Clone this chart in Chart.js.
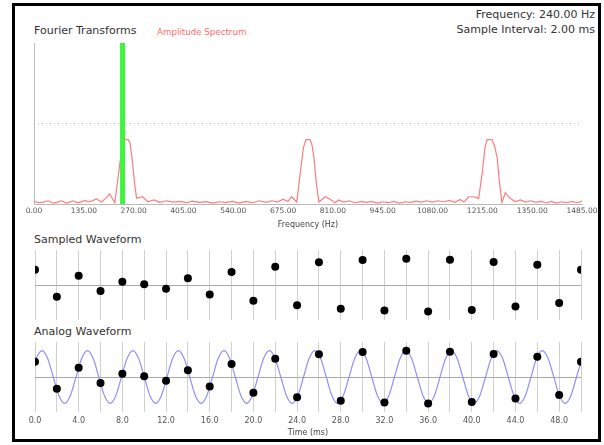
<!DOCTYPE html>
<html>
<head>
<meta charset="utf-8">
<script src="https://cdn.jsdelivr.net/npm/chart.js@4.4.0/dist/chart.umd.min.js"></script>
<style>
  body { margin:0; background:#fff; }
  #wrap { position:relative; width:604px; height:445px; overflow:hidden; font-family:"DejaVu Sans", sans-serif; }
  #frame { position:absolute; left:12px; top:3px; width:589px; height:439px; box-sizing:border-box; border:3px solid #000; }
  .lbl { position:absolute; white-space:nowrap; line-height:12px; font-size:11px; color:#333; }
  canvas { position:absolute; left:0; }
</style>
</head>
<body>
<div id="wrap">
  <div id="frame"></div>
  <div class="lbl" id="freqText" style="right:9px; top:9px;"></div>
  <div class="lbl" id="intervalText" style="right:9px; top:24px;"></div>
  <div class="lbl" style="left:34px; top:25px;">Fourier Transforms</div>
  <div class="lbl" style="left:157px; top:27px; font-size:8.7px; line-height:10px; color:#ff6b6b;">Amplitude Spectrum</div>
  <div class="lbl" style="left:34px; top:234px;">Sampled Waveform</div>
  <div class="lbl" style="left:34px; top:326px;">Analog Waveform</div>
  <canvas id="specChart" width="604" height="200" style="top:36px;"></canvas>
  <canvas id="sampleChart" width="604" height="80" style="top:245px;"></canvas>
  <canvas id="analogChart" width="604" height="103" style="top:337px;"></canvas>
</div>
<script>
const signalFreq = 240;     // Hz
const sampleInterval = 2;   // ms
const refLevel = 0.5;
const yLim = 1.33;

// amplitude spectrum
const specFreq = [0, 11, 25, 38, 52, 63, 74, 88, 97, 106, 115, 124, 138, 147, 156, 169, 183, 194, 205, 219,
  231, 239, 245, 255, 260, 266, 272, 278, 294, 309, 325, 341, 359, 377, 395, 413,
  430, 448, 466, 484, 502, 520, 538, 556, 574, 592, 610, 628, 645, 660, 675, 688, 698, 712,
  722, 730, 737, 748, 753, 759, 765, 772, 789, 802, 816, 825, 840, 855,
  870, 885, 900, 915, 930, 945, 960, 975, 990, 1005, 1020, 1035, 1050, 1065, 1080, 1095, 1110, 1125, 1140, 1155,
  1165, 1178, 1191, 1205, 1215, 1222, 1228, 1241, 1248, 1255, 1261, 1268, 1277, 1290, 1304, 1318,
  1332, 1346, 1360, 1374, 1388, 1402, 1416, 1430, 1444, 1458, 1472, 1485];
const specAmp = [0.018, 0.008, 0.012, 0.02, 0.005, 0.012, 0.02, 0.006, 0.012, 0.02, 0.01, 0.01, 0.022, 0.014, 0.018, 0.032, 0.012, 0.035, 0.062, 0.008,
  0.22, 0.37, 0.40, 0.40, 0.38, 0.28, 0.14, 0.035, 0.045, 0.014, 0.025, 0.01, 0.02, 0.012, 0.016, 0.008,
  0.018, 0.01, 0.015, 0.006, 0.014, 0.01, 0.016, 0.006, 0.016, 0.008, 0.02, 0.01, 0.02, 0.012, 0.03, 0.015, 0.045, 0.012,
  0.20, 0.35, 0.40, 0.40, 0.37, 0.28, 0.13, 0.012, 0.045, 0.03, 0.008, 0.025, 0.012, 0.02,
  0.008, 0.016, 0.01, 0.016, 0.006, 0.014, 0.008, 0.016, 0.006, 0.014, 0.01, 0.018, 0.012, 0.02, 0.012, 0.02, 0.014, 0.022, 0.01, 0.028,
  0.012, 0.045, 0.045, 0.035, 0.20, 0.35, 0.40, 0.40, 0.36, 0.29, 0.14, 0.01, 0.07, 0.035, 0.015, 0.025,
  0.012, 0.02, 0.01, 0.016, 0.008, 0.016, 0.006, 0.014, 0.008, 0.016, 0.008, 0.018];

// samples, every 2 ms
const sampleTimes = [0, 2, 4, 6, 8, 10, 12, 14, 16, 18, 20, 22, 24, 26, 28, 30, 32, 34, 36, 38, 40, 42, 44, 46, 48, 50];
const sampleValues = [0.58, -0.45, 0.35, -0.23, 0.12, 0.03, -0.14, 0.26, -0.36, 0.49, -0.60, 0.69, -0.77,
  0.86, -0.90, 0.95, -0.97, 1.0, -1.01, 0.96, -0.95, 0.87, -0.82, 0.77, -0.68, 0.58];

// analog wave: key points (eighth periods)
const analogTimes = [0,
  0.11, 0.63, 1.15, 1.67, 2.19, 2.71, 3.23, 3.76,
  4.28, 4.80, 5.32, 5.84, 6.36, 6.88, 7.40, 7.92,
  8.44, 8.96, 9.48, 10.01, 10.53, 11.05, 11.57, 12.09,
  12.61, 13.13, 13.65, 14.17, 14.69, 15.21, 15.73, 16.26,
  16.78, 17.30, 17.82, 18.34, 18.86, 19.38, 19.90, 20.42,
  20.94, 21.46, 21.98, 22.51, 23.03, 23.55, 24.07, 24.59,
  25.11, 25.63, 26.15, 26.67, 27.19, 27.71, 28.23, 28.76,
  29.28, 29.80, 30.32, 30.84, 31.36, 31.88, 32.40, 32.92,
  33.44, 33.96, 34.48, 35.01, 35.53, 36.05, 36.57, 37.09,
  37.61, 38.13, 38.65, 39.17, 39.69, 40.21, 40.73, 41.26,
  41.78, 42.30, 42.82, 43.34, 43.86, 44.38, 44.90, 45.42,
  45.94, 46.46, 46.98, 47.51, 48.03, 48.55, 49.07, 49.59,
  50];
const analogValues = [0.58,
  0.71, 1, 0.71, 0, -0.71, -1, -0.71, 0,
  0.71, 1, 0.71, 0, -0.71, -1, -0.71, 0,
  0.71, 1, 0.71, 0, -0.71, -1, -0.71, 0,
  0.71, 1, 0.71, 0, -0.71, -1, -0.71, 0,
  0.71, 1, 0.71, 0, -0.71, -1, -0.71, 0,
  0.71, 1, 0.71, 0, -0.71, -1, -0.71, 0,
  0.71, 1, 0.71, 0, -0.71, -1, -0.71, 0,
  0.71, 1, 0.71, 0, -0.71, -1, -0.71, 0,
  0.71, 1, 0.71, 0, -0.71, -1, -0.71, 0,
  0.71, 1, 0.71, 0, -0.71, -1, -0.71, 0,
  0.71, 1, 0.71, 0, -0.71, -1, -0.71, 0,
  0.71, 1, 0.71, 0, -0.71, -1, -0.71, 0,
  0.58];

document.getElementById("freqText").textContent = "Frequency: " + signalFreq.toFixed(2) + " Hz";
document.getElementById("intervalText").textContent = "Sample Interval: " + sampleInterval.toFixed(2) + " ms";

Chart.defaults.font.family = "'DejaVu Sans', sans-serif";
Chart.defaults.animation = false;

const pairs = (xs, ys) => xs.map((x, i) => ({x: x, y: ys[i]}));
const zeroLine = c => c.tick.value === 0 ? "#a8a8a8" : "rgba(0,0,0,0)";

new Chart(document.getElementById("specChart"),
{
  type: "line",
  data:
  {
    datasets: [
      {
        data: [{x: signalFreq, y: 0}, {x: signalFreq, y: 1}],
        borderColor: "#3cf53c", borderWidth: 5, borderCapStyle: "butt", pointRadius: 0
      },
      {
        data: pairs(specFreq, specAmp),
        borderColor: "#ff7c7c", borderWidth: 1.2, pointRadius: 0, tension: 0
      },
      {
        data: [{x: 0, y: refLevel}, {x: 1485, y: refLevel}],
        borderColor: "#bbbbbb", borderWidth: 1, borderDash: [1, 3], pointRadius: 0
      }
    ]
  },
  options:
  {
    responsive: false,
    layout: {padding: {left: 34, right: 22, top: 7, bottom: 2}},
    plugins: {legend: {display: false}, tooltip: {enabled: false}},
    scales:
    {
      x:
      {
        type: "linear", min: 0, max: 1485,
        ticks: {stepSize: 135, autoSkip: false, maxRotation: 0, padding: 3, color: "#555", font: {size: 7.5},
          callback: v => v.toFixed(2)},
        grid: {display: false, drawTicks: false},
        border: {display: true, color: "#bbbbbb"},
        title: {display: true, text: "Frequency (Hz)", color: "#444", font: {size: 8}, padding: {top: 0, bottom: 4}},
        afterFit: s => { s.height = 30; }
      },
      y:
      {
        min: 0, max: 1,
        ticks: {display: false},
        grid: {display: false, drawTicks: false},
        border: {display: true, color: "#bbbbbb"},
        afterFit: s => { s.width = 0; }
      }
    }
  }
});

new Chart(document.getElementById("sampleChart"),
{
  type: "scatter",
  data:
  {
    datasets: [
      {data: pairs(sampleTimes, sampleValues), backgroundColor: "#000", borderWidth: 0, pointRadius: 4}
    ]
  },
  options:
  {
    responsive: false,
    layout: {padding: {left: 35, right: 23, top: 5, bottom: 5}},
    plugins: {legend: {display: false}, tooltip: {enabled: false}},
    scales:
    {
      x:
      {
        type: "linear", min: 0, max: 50,
        ticks: {display: false, stepSize: 2, autoSkip: false, includeBounds: false},
        grid: {color: "#d0d0d0", drawTicks: false},
        border: {display: false},
        afterFit: s => { s.height = 0; }
      },
      y:
      {
        min: -yLim, max: yLim,
        ticks: {display: false, stepSize: 1},
        grid: {color: zeroLine, drawTicks: false},
        border: {display: false},
        afterFit: s => { s.width = 0; }
      }
    }
  }
});

new Chart(document.getElementById("analogChart"),
{
  type: "line",
  data:
  {
    datasets: [
      {data: pairs(sampleTimes, sampleValues), showLine: false, backgroundColor: "#000", borderWidth: 0, pointRadius: 4},
      {data: pairs(analogTimes, analogValues), borderColor: "#8f8fff", borderWidth: 1.2, pointRadius: 0,
        cubicInterpolationMode: "monotone"}
    ]
  },
  options:
  {
    responsive: false,
    layout: {padding: {left: 35, right: 23, top: 5, bottom: 2}},
    plugins: {legend: {display: false}, tooltip: {enabled: false}},
    scales:
    {
      x:
      {
        type: "linear", min: 0, max: 50,
        ticks: {stepSize: 2, autoSkip: false, includeBounds: false, maxRotation: 0, padding: 4, color: "#555", font: {size: 8},
          callback: v => v % 4 === 0 ? v.toFixed(1) : ""},
        grid: {color: "#d0d0d0", drawTicks: false},
        border: {display: false},
        title: {display: true, text: "Time (ms)", color: "#444", font: {size: 8}, padding: {top: 0, bottom: 0}},
        afterFit: s => { s.height = 26; }
      },
      y:
      {
        min: -yLim, max: yLim,
        ticks: {display: false, stepSize: 1},
        grid: {color: zeroLine, drawTicks: false},
        border: {display: false},
        afterFit: s => { s.width = 0; }
      }
    }
  }
});
</script>
</body>
</html>
